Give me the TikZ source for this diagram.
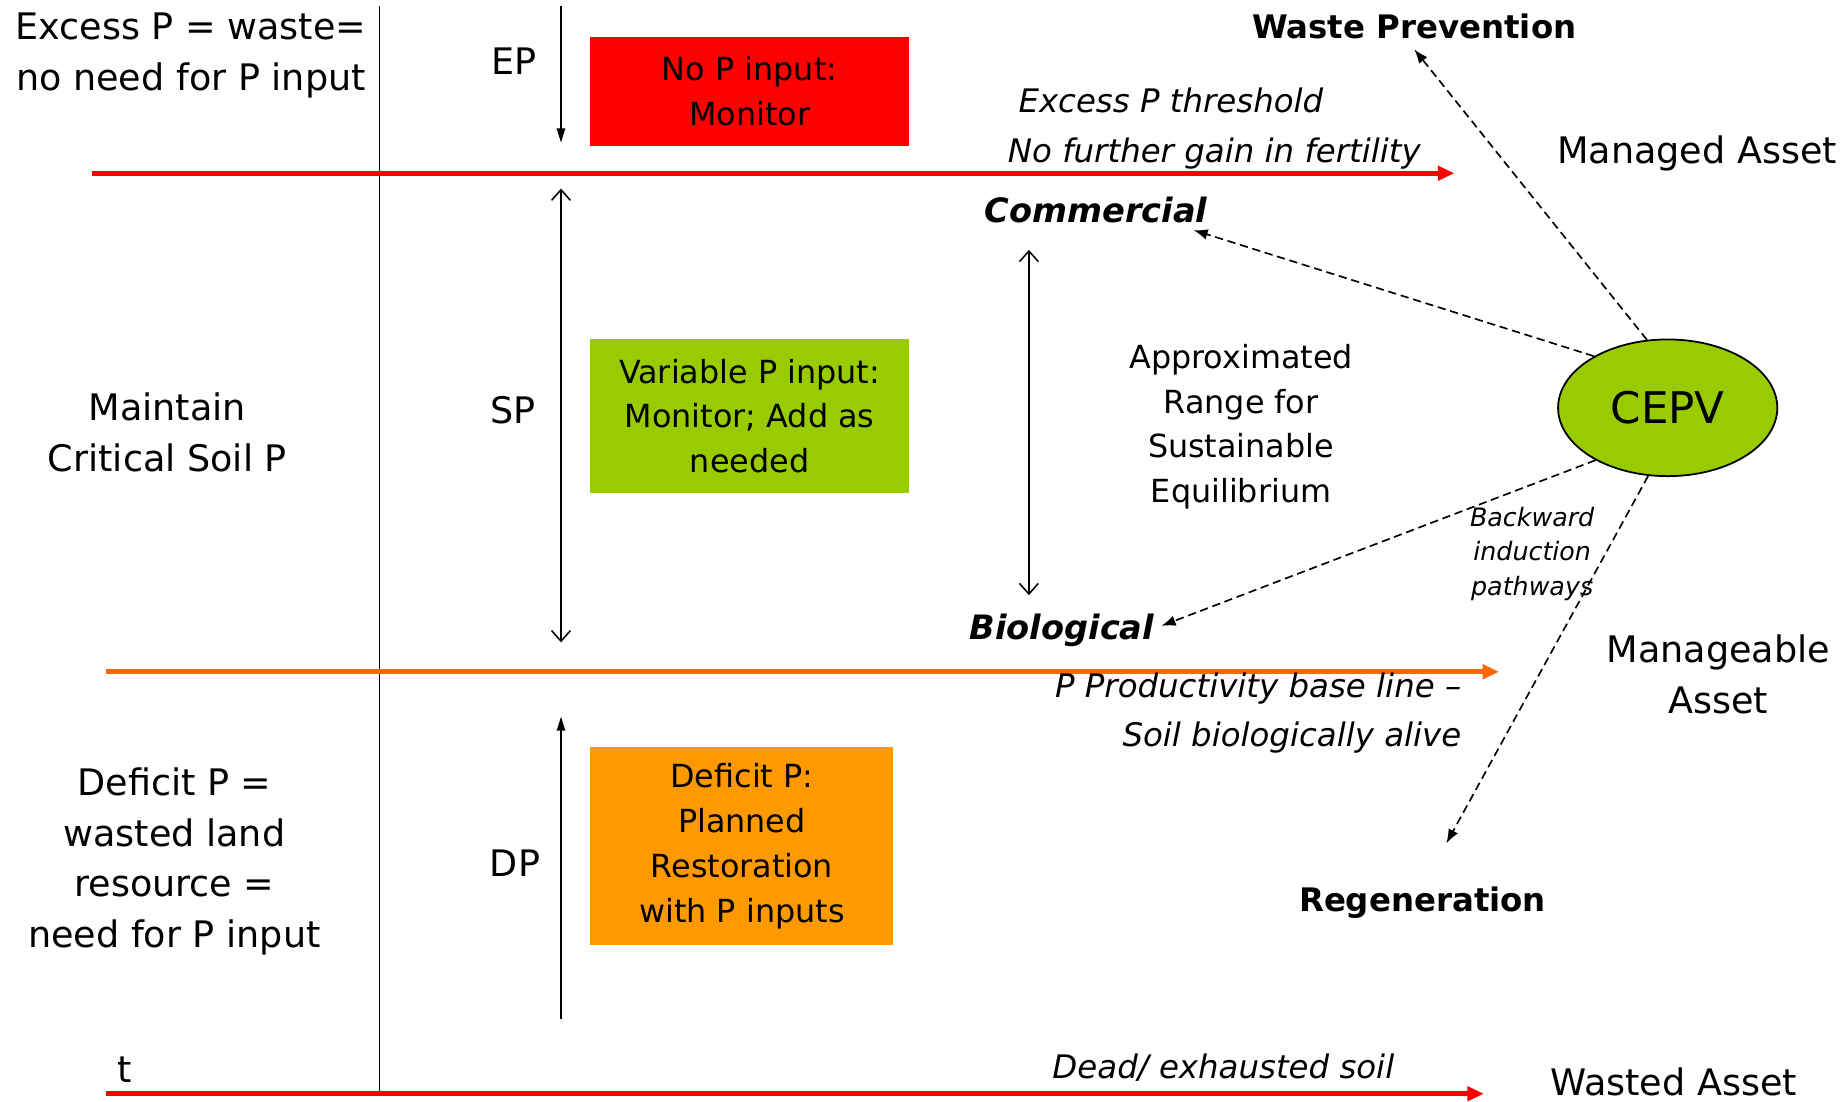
\documentclass[tikz,border=0pt]{standalone}
\usepackage{fontspec}
\setmainfont{DejaVu Sans}
\usepackage{tikz}
\usetikzlibrary{shapes,arrows.meta}
\definecolor{boxred}{RGB}{255,0,0}
\definecolor{boxgreen}{RGB}{153,204,0}
\definecolor{boxorange}{RGB}{255,153,0}
\definecolor{lineorange}{RGB}{255,102,0}

\begin{document}
\begin{tikzpicture}[x=1pt,y=-1pt,
  bigtxt/.style={font=\fontsize{31}{43}\selectfont, align=center, inner sep=0pt},
  boxtxt/.style={font=\fontsize{27}{38}\selectfont, align=center, inner sep=0pt},
  itnote/.style={font=\fontsize{27.5}{42}\selectfont\itshape, inner sep=0pt},
  bfnote/.style={font=\fontsize{27.5}{34}\selectfont\bfseries, inner sep=0pt},
  pline/.style={line width=4pt, -{Triangle[length=14pt,width=12pt]}},
  dasharrow/.style={line width=1.4pt, dash pattern=on 7pt off 4pt, -{Latex[length=12pt,width=9pt]}}]
\useasboundingbox (0,0) rectangle (1568,935);

% axis and levels
\coordinate (axis top) at (322,5);
\coordinate (axis bot) at (322,928);
\coordinate (thr w) at (78,147);
\coordinate (thr e) at (1234,147);
\coordinate (base w) at (90,570);
\coordinate (base e) at (1272,570);
\coordinate (dead w) at (90,928);
\coordinate (dead e) at (1259,928);
\draw[line width=1.3pt, black] (axis top) -- (axis bot);
\draw[pline, red] (thr w) -- (thr e);
\draw[pline, lineorange] (base w) -- (base e);
\draw[pline, red] (dead w) -- (dead e);

% left column
\node[bigtxt] (excess) at (162,47) {Excess P = waste=\\no need for P input};
\node[bigtxt] (maintain) at (142,367) {Maintain\\Critical Soil P};
\node[bigtxt] (deficit) at (148,731) {Deficit P =\\wasted land\\resource =\\need for P input};
\node[bigtxt] (t) at (106,908) {t};

% ranges
\node[bigtxt] (ep) at (436,52) {EP};
\node[bigtxt] (sp) at (435,348) {SP};
\node[bigtxt] (dp) at (437,732) {DP};
\coordinate (ep top) at (476,5);
\coordinate (ep tip) at (476,121);
\coordinate (sp top) at (476,160);
\coordinate (sp bot) at (476,545);
\coordinate (dp bot) at (476,865);
\coordinate (dp tip) at (476,608);
\draw[line width=1.3pt, -{Triangle[length=12pt,width=7pt]}] (ep top) -- (ep tip);
\draw[line width=1.3pt, {Straight Barb[length=9pt,width=16pt]}-{Straight Barb[length=9pt,width=16pt]}] (sp top) -- (sp bot);
\draw[line width=1.3pt, -{Triangle[length=12pt,width=7pt]}] (dp bot) -- (dp tip);

% boxes
\node[boxtxt, fill=boxred, minimum width=270pt, minimum height=93pt] (nopin) at (636,77.5) {No P input:\\Monitor};
\node[boxtxt, fill=boxgreen, minimum width=270pt, minimum height=130pt] (varpin) at (636,353) {Variable P input:\\Monitor; Add as\\needed};
\node[boxtxt, fill=boxorange, minimum width=257pt, minimum height=168pt] (defpin) at (629.5,718) {Deficit P:\\Planned\\Restoration\\with P inputs};

% level notes
\node[itnote, align=left, anchor=west] (thrnote) at (855,109) {\hspace*{9pt}Excess P threshold\\No further gain in fertility};
\node[itnote, align=right, anchor=east] (basenote) at (1240,605) {P Productivity base line --\\Soil biologically alive};
\node[itnote] (deadnote) at (1038,906) {Dead/ exhausted soil};

% equilibrium range
\node[font=\fontsize{28.5}{34}\selectfont\bfseries\itshape, inner sep=0pt] (comm) at (930,178) {Commercial};
\node[font=\fontsize{28.5}{34}\selectfont\bfseries\itshape, inner sep=0pt] (bio) at (901,535) {Biological};
\coordinate (rng top) at (873,212);
\coordinate (rng bot) at (873,505);
\draw[line width=1.3pt, {Straight Barb[length=9pt,width=16pt]}-{Straight Barb[length=9pt,width=16pt]}] (rng top) -- (rng bot);
\node[boxtxt] (approx) at (1053,362) {Approximated\\Range for\\Sustainable\\Equilibrium};

% assets
\node[bigtxt] (managed) at (1440,130) {Managed Asset};
\node[bigtxt] (manageable) at (1458,572) {Manageable\\Asset};
\node[bigtxt] (wasted) at (1420,918) {Wasted Asset};

% CEPV and pathways
\node[ellipse, draw, line width=1.5pt, fill=boxgreen, minimum width=186pt, minimum height=116pt, inner sep=0pt,
      font=\fontsize{37}{40}\selectfont] (cepv) at (1415,346) {CEPV};
\node[bfnote] (waste) at (1200,22) {Waste Prevention};
\node[bfnote] (regen) at (1207,766) {Regeneration};
\node[font=\fontsize{21.5}{29.5}\selectfont\itshape, align=center, inner sep=0pt] (backward) at (1300,470) {Backward\\induction\\pathways};
\draw[dasharrow] (cepv.107) -- ([yshift=-9pt]waste.south);
\draw[dasharrow] (cepv.145) -- ([xshift=-12pt,yshift=-6pt]comm.south east);
\draw[dasharrow] (cepv.216) -- ([xshift=6pt,yshift=4pt]bio.east);
\draw[dasharrow, shorten >=42pt] (cepv.254) -- (regen.north);
\end{tikzpicture}
\end{document}
